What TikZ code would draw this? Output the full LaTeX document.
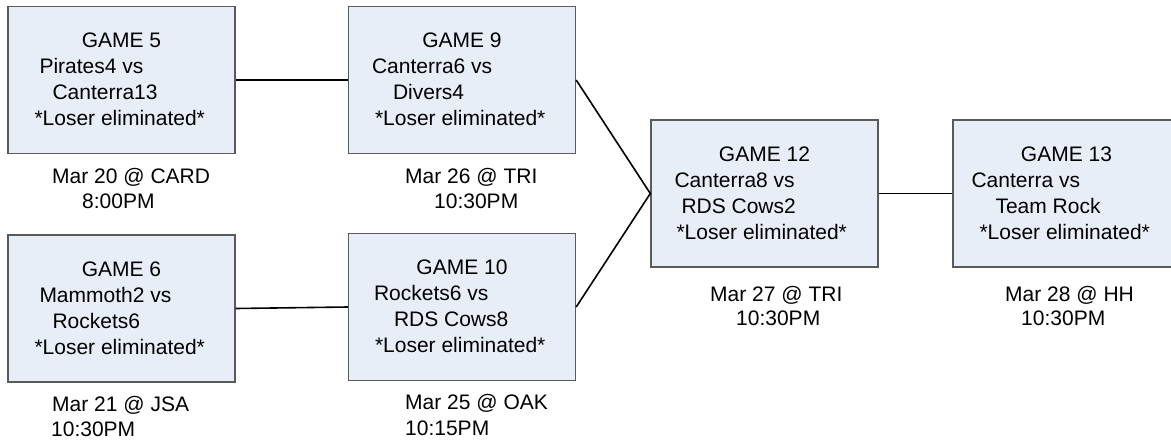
\documentclass[tikz,border=0pt]{standalone}
\usepackage{fontspec}
\setmainfont{Liberation Sans}
\usetikzlibrary{calc,positioning}
\definecolor{gamefill}{HTML}{E8EEF8}
\definecolor{gameline}{HTML}{5A5A5A}

\begin{document}
\begin{tikzpicture}[x=1pt,y=1pt,font=\fontsize{21}{25}\selectfont,
  game/.style={draw=gameline,fill=gamefill,line width=1.4pt,minimum width=227pt,minimum height=147pt,inner sep=0pt},
  txt/.style={anchor=base west,inner sep=0pt},
  link/.style={draw=black,line width=1.6pt}]
\path[use as bounding box,clip] (0,0) rectangle (1171,-440);
% game boxes
\foreach \g/\x/\y/\a/\ia/\b/\ib/\il in {5/121.5/80/Pirates4 vs/32/Canterra13/45/27,
  9/462/80/Canterra6 vs/24/Divers4/45/27,
  6/121.5/308.5/Mammoth2 vs/32/Rockets6/45/27,
  10/462/307/Rockets6 vs/26/RDS Cows8/46/27,
  12/764.5/193.5/Canterra8 vs/24/RDS Cows2/31/26,
  13/1066.5/193.5/Canterra vs/19/Team Rock/43/27}
{
  \node[game] (g\g) at (\x,-\y) {};
  \node[txt,anchor=base] (t\g) at ($(g\g.north)+(0,-42)$) {GAME \g};
  \node[txt] (a\g) at ($(g\g.north west)+(\ia,-68)$) {\a};
  \node[txt] (b\g) at ($(g\g.north west)+(\ib,-94)$) {\b};
  \node[txt] (l\g) at ($(g\g.north west)+(\il,-119.7)$) {*Loser eliminated*};
}
% date and time under each box
\foreach \g/\dx/\dy/\d/\hx/\hy/\h in {5/52/183.3/Mar 20 @ CARD/82/208.3/8:00PM,
  9/405/183.3/Mar 26 @ TRI/434/208.3/10:30PM,
  6/52/411/Mar 21 @ JSA/51/436/10:30PM,
  10/405/409/Mar 25 @ OAK/405/435/10:15PM,
  12/710/301.7/Mar 27 @ TRI/736/325/10:30PM,
  13/1005/301.7/Mar 28 @ HH/1021/325/10:30PM}
{
  \node[txt] (d\g) at (\dx,-\dy) {\d};
  \node[txt] (h\g) at (\hx,-\hy) {\h};
}
% bracket lines
\draw[link] (g5.east) -- (g9.west);
\draw[link] (g6.east) -- (g10.west);
\draw[link] (g9.east) -- (g12.west) -- (g10.east);
\draw[link] (g12.east) -- (g13.west);
\end{tikzpicture}
\end{document}
